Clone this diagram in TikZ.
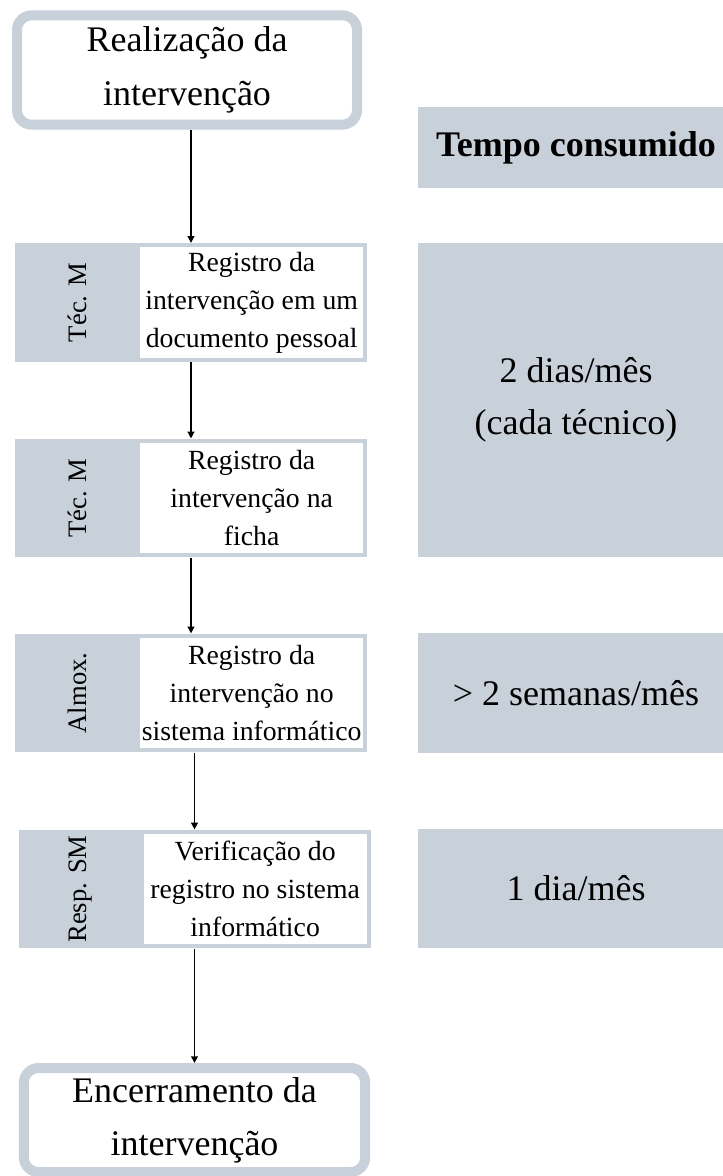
\documentclass[tikz,border=0pt]{standalone}
\usepackage{fontspec}
\setmainfont{Liberation Serif}
\usepackage{xcolor}
\usepackage{tikz}
\usetikzlibrary{positioning,arrows.meta,calc}

\definecolor{boxgrey}{RGB}{200,208,218}

\tikzset{
  term/.style={draw=boxgrey, line width=7.5pt, fill=white, rounded corners=11pt,
    minimum width=255pt, minimum height=82pt, align=center,
    font=\fontsize{27}{40}\selectfont},
  lane/.style={fill=boxgrey, minimum width=264pt, minimum height=89pt, inner sep=0pt},
  task/.style={fill=white, minimum width=167pt, minimum height=83pt, inner sep=0pt,
    align=center, font=\fontsize{20.8}{28.5}\selectfont},
  who/.style={rotate=90, inner sep=0pt, font=\fontsize{20}{24}\selectfont},
  cost/.style={fill=boxgrey, minimum width=237pt, inner sep=0pt, align=center,
    font=\fontsize{27}{39}\selectfont},
  flow/.style={-{Triangle[length=5pt,width=5pt]}, line width=1.1pt}
}

\begin{document}
\begin{tikzpicture}[x=0.75pt,y=-0.75pt]
\useasboundingbox (0,0) rectangle (722,1176);

% inicio e fim
\node[term] (start) at (187,70) {Realização da\\intervenção};
\node[term, minimum width=256pt, minimum height=78pt] (finish) at (194.5,1120) {Encerramento da\\intervenção};

% etapas de registro
\node[lane] (reg1) at (191,302.5) {};
\node[task, anchor=east] (reg1t) at ([xshift=-3pt]reg1.east) {Registro da\\intervenção em um\\documento pessoal};
\node[who] (reg1w) at ($(reg1.west)!.5!(reg1t.west)$) {Téc. M};

\node[lane] (reg2) at (191,498) {};
\node[task, anchor=east] (reg2t) at ([xshift=-3pt]reg2.east) {Registro da\\intervenção na\\ficha};
\node[who] (reg2w) at ($(reg2.west)!.5!(reg2t.west)$) {Téc. M};

\node[lane] (reg3) at (191,693) {};
\node[task, anchor=east] (reg3t) at ([xshift=-3pt]reg3.east) {Registro da\\intervenção no\\sistema informático};
\node[who] (reg3w) at ($(reg3.west)!.5!(reg3t.west)$) {Almox.};

\node[lane] (reg4) at (194.5,889) {};
\node[task, anchor=east] (reg4t) at ([xshift=-3pt]reg4.east) {Verificação do\\registro no sistema\\informático};
\node[who] (reg4w) at ($(reg4.west)!.5!(reg4t.west)$) {Resp. SM};

% tempos
\node[cost, minimum height=60.75pt, font=\fontsize{27}{39}\selectfont\bfseries] (head) at (576,147.5) {Tempo consumido};
\node[cost, minimum height=235.5pt] (timeA) at (576,400) {2 dias/mês\\(cada técnico)};
\node[cost, minimum height=90pt] (timeB) at (576,693) {> 2 semanas/mês};
\node[cost, minimum height=89.25pt] (timeC) at (576,888.5) {1 dia/mês};

% setas
\draw[flow] (start.south -| reg1.north) -- (reg1.north);
\draw[flow] (reg1.south) -- (reg2.north);
\draw[flow] (reg2.south) -- (reg3.north);
\draw[flow] (reg3.south -| reg4.north) -- (reg4.north);
\draw[flow] (reg4.south) -- (finish.north -| reg4.south);
\end{tikzpicture}
\end{document}
